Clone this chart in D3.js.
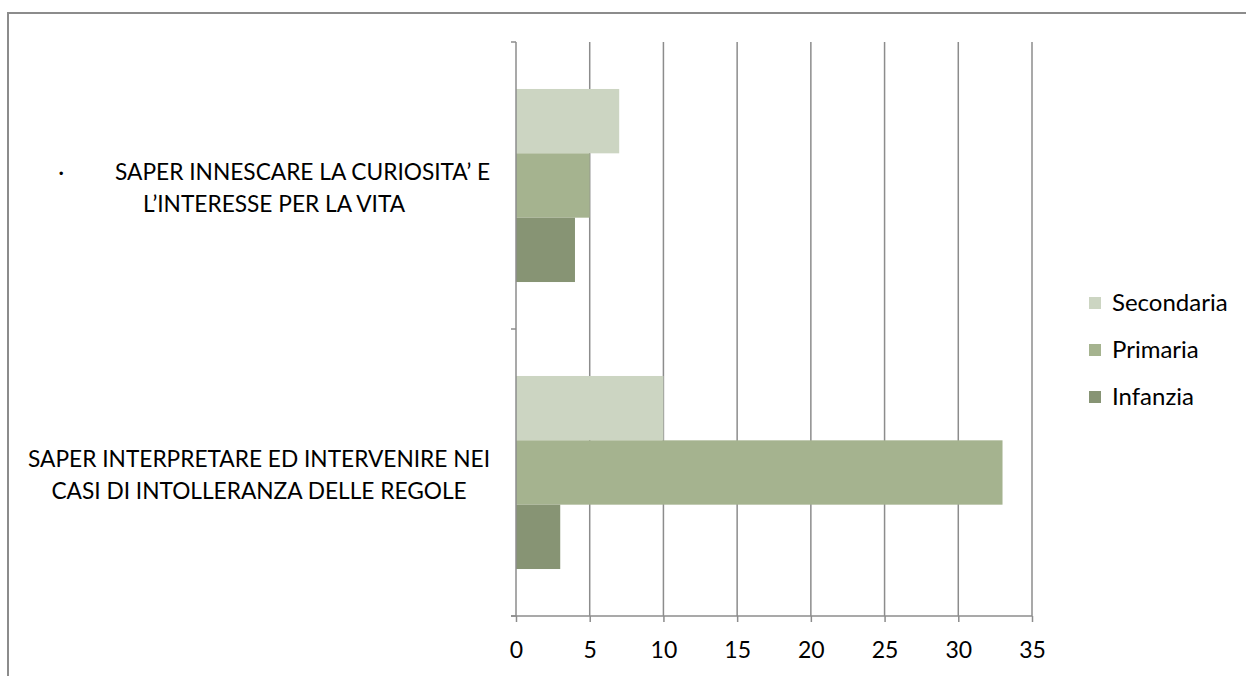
<!DOCTYPE html>
<html lang="it">
<head>
<meta charset="UTF-8">
<title>Competenze</title>
<style>
  body { margin: 0; background: #fff; }
  svg text { font-family: Lato, "Liberation Sans", sans-serif; fill: #000; }
</style>
</head>
<body>
<svg id="chart" width="1246" height="676"></svg>
<script src="https://d3js.org/d3.v7.min.js"></script>
<script>
// categories from top to bottom, each as its wrapped lines
const categories = ["innescare", "interpretare"];
const categoryLines = {
  innescare: ["·\u2003\u2003\u2003SAPER INNESCARE LA CURIOSITA’ E", "L’INTERESSE PER LA VITA"],
  interpretare: ["SAPER INTERPRETARE ED INTERVENIRE NEI", "CASI DI INTOLLERANZA DELLE REGOLE"]
};
// series, top to bottom inside each group (legend order too)
const series = ["Secondaria", "Primaria", "Infanzia"];
const seriesColors = ["#ccd5c2", "#a5b38f", "#879474"];
const secondaria = [7, 10];
const primaria = [5, 33];
const infanzia = [4, 3];
const xTicks = [0, 5, 10, 15, 20, 25, 30, 35];

const values = { Secondaria: secondaria, Primaria: primaria, Infanzia: infanzia };

const svg = d3.select("#chart");
const plotLeft = 516, plotRight = 1032, plotTop = 42, plotBottom = 616;
const grey = "#8c8c8c";
const fontSize = 23;

// outer frame (cut by the page edge on the right and bottom)
svg.append("rect")
  .attr("x", 8).attr("y", 13).attr("width", 1300).attr("height", 700)
  .attr("fill", "none").attr("stroke", grey).attr("stroke-width", 2);

const x = d3.scaleLinear().domain([0, 35]).range([plotLeft, plotRight]);
const y0 = d3.scaleBand().domain(categories).range([plotTop, plotBottom]);
const y1 = d3.scaleBand().domain(series).range([0, y0.bandwidth()]).paddingOuter(0.73);
const color = d3.scaleOrdinal().domain(series).range(seriesColors);

// vertical gridlines
svg.append("g").selectAll("line").data(xTicks.slice(1)).join("line")
  .attr("x1", d => x(d)).attr("x2", d => x(d))
  .attr("y1", plotTop).attr("y2", plotBottom)
  .attr("stroke", grey).attr("stroke-width", 1.5);

// bars
const groups = svg.append("g").selectAll("g").data(categories).join("g")
  .attr("transform", c => `translate(0,${y0(c)})`);
groups.selectAll("rect")
  .data(c => series.map(s => ({ s, v: values[s][categories.indexOf(c)] })))
  .join("rect")
  .attr("x", x(0))
  .attr("y", d => y1(d.s))
  .attr("width", d => x(d.v) - x(0))
  .attr("height", y1.bandwidth())
  .attr("fill", d => color(d.s));

// bottom axis
const xAxis = svg.append("g")
  .attr("transform", `translate(0,${plotBottom})`)
  .call(d3.axisBottom(x).tickValues(xTicks).tickSize(6).tickPadding(20).tickSizeOuter(0));
xAxis.select(".domain").attr("stroke", grey).attr("stroke-width", 1.5)
  .attr("d", `M${plotLeft - 5},0H${plotRight}`);
xAxis.selectAll(".tick line").attr("stroke", grey).attr("stroke-width", 1.5);
xAxis.selectAll(".tick text").attr("font-size", fontSize).attr("font-family", "Lato, sans-serif");

// left axis: line plus ticks at category boundaries
const yAxis = svg.append("g");
yAxis.append("line")
  .attr("x1", plotLeft).attr("x2", plotLeft).attr("y1", plotTop).attr("y2", plotBottom)
  .attr("stroke", grey).attr("stroke-width", 1.5);
const bounds = categories.map(c => y0(c)).concat([y0(categories[categories.length - 1]) + y0.bandwidth()]);
yAxis.selectAll(".bt").data(bounds).join("line")
  .attr("x1", plotLeft - 5).attr("x2", plotLeft).attr("y1", d => d).attr("y2", d => d)
  .attr("stroke", grey).attr("stroke-width", 1.5);

// category labels: block right edge at 490, lines centred in block
const labelRight = 490, lineH = 32;
categories.forEach(c => {
  const lines = categoryLines[c];
  const t = svg.append("text").attr("font-size", 22.7).style("white-space", "pre");
  const cy = y0(c) + y0.bandwidth() / 2 + 3;
  lines.forEach((ln, i) => {
    t.append("tspan")
      .attr("y", cy + (i - (lines.length - 1) / 2) * lineH)
      .attr("dy", "0.35em")
      .text(ln);
  });
  const tsp = t.selectAll("tspan").nodes();
  const w = d3.max(tsp, n => n.getComputedTextLength());
  t.selectAll("tspan").attr("x", labelRight - w / 2).attr("text-anchor", "middle");
});

// legend
const legend = svg.append("g").selectAll("g").data(series).join("g")
  .attr("transform", (d, i) => `translate(1089,${303 + i * 47})`);
legend.append("rect").attr("x", 0).attr("y", -6).attr("width", 12).attr("height", 12)
  .attr("fill", d => color(d));
legend.append("text").attr("x", 23).attr("dy", "0.35em").attr("font-size", 24).text(d => d);
</script>
</body>
</html>
